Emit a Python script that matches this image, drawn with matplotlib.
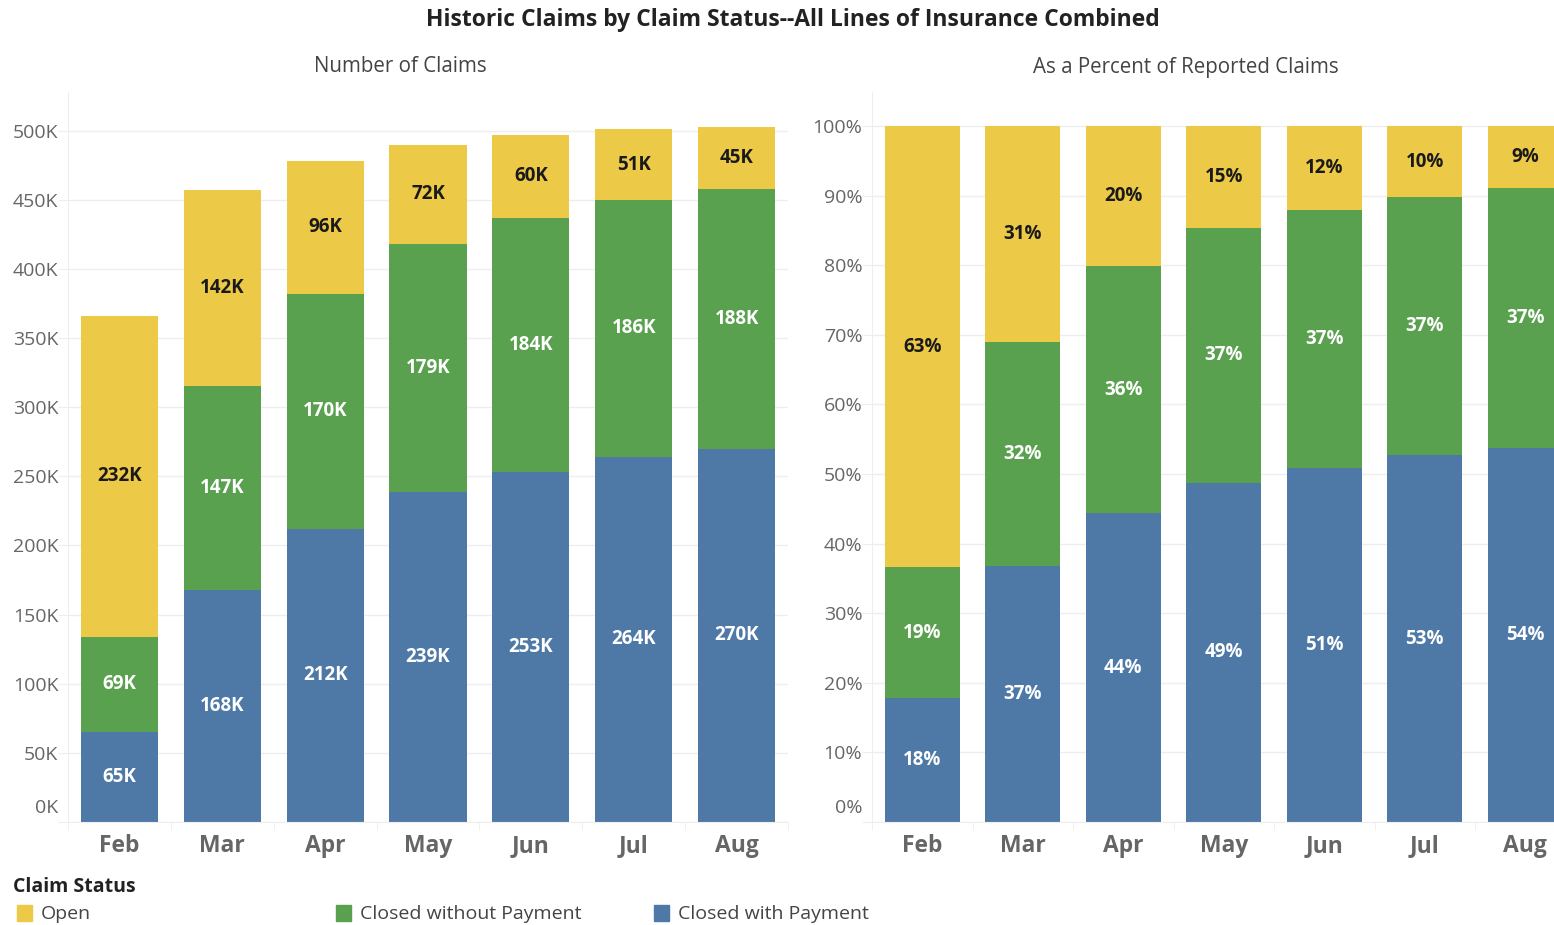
import matplotlib
matplotlib.use("Agg")
import matplotlib.pyplot as plt
from matplotlib.patches import Rectangle
import numpy as np

plt.rcParams['font.family'] = ['Open Sans', 'DejaVu Sans']

# Дані
months = ['Feb', 'Mar', 'Apr', 'May', 'Jun', 'Jul', 'Aug']
closed_with = [65, 168, 212, 239, 253, 264, 270]      # тис.
closed_without = [69, 147, 170, 179, 184, 186, 188]
open_claims = [232, 142, 96, 72, 60, 51, 45]

series_names = ['Closed with Payment', 'Closed without Payment', 'Open']
colors = ['#4E79A7', '#59A14F', '#EDC948']
text_colors = ['white', 'white', '#1a1a1a']

count_ticks = [0, 50, 100, 150, 200, 250, 300, 350, 400, 450, 500]
pct_ticks = [0, 10, 20, 30, 40, 50, 60, 70, 80, 90, 100]

W, H = 1554, 925
fig = plt.figure(figsize=(W / 100, H / 100), dpi=100)

ax1 = fig.add_axes([68 / W, 1 - 822 / H, 720 / W, 730 / H])
ax2 = fig.add_axes([872 / W, 1 - 822 / H, 703.5 / W, 730 / H])

counts = np.array([closed_with, closed_without, open_claims], dtype=float)
totals = counts.sum(axis=0)
pcts = counts / totals * 100

x = np.arange(len(months))


def draw_stack(ax, data, fmt):
    bottom = np.zeros(len(months))
    for i, vals in enumerate(data):
        ax.bar(x, vals, 0.75, bottom=bottom, color=colors[i], zorder=2)
        for xi, v, b in zip(x, vals, bottom):
            ax.text(xi, b + v / 2, fmt(v), ha='center', va='center',
                    color=text_colors[i], fontsize=13.5, fontweight='bold', zorder=3)
        bottom += vals


draw_stack(ax1, counts, lambda v: f"{v:.0f}K")
draw_stack(ax2, pcts, lambda v: f"{v:.0f}%")

ax1.set_ylim(0, 528)
ax2.set_ylim(0, 104.9)

for ax, ticks, suffix in [(ax1, count_ticks, 'K'), (ax2, pct_ticks, '%')]:
    ax.set_xlim(-0.5, 6.5)
    ax.set_yticks(ticks)
    ax.set_yticklabels([''] + [f"{t}{suffix}" for t in ticks[1:]])
    # підпис нуля трохи вище, як в оригіналі
    ax.annotate(f"0{suffix}", xy=(0, 0), xycoords=('axes fraction', 'data'),
                xytext=(-10, 14), textcoords='offset pixels', ha='right', va='center',
                fontsize=14, color='#666666')
    ax.tick_params(axis='y', length=7, color='#eeeeee', labelsize=14,
                   labelcolor='#666666', pad=0)
    ax.grid(axis='y', color='#eeeeee', linewidth=1, zorder=0)
    ax.set_xticks(x)
    ax.set_xticklabels(months, fontsize=16.5, fontweight='bold', color='#666666')
    ax.set_xticks(np.arange(-0.5, 7, 1), minor=True)
    ax.tick_params(axis='x', which='major', length=0, pad=9)
    ax.tick_params(axis='x', which='minor', length=6, color='#eeeeee')
    for s in ['top', 'right']:
        ax.spines[s].set_visible(False)
    for s in ['left', 'bottom']:
        ax.spines[s].set_color('#eeeeee')

fig.text(793 / W, 1 - 20 / H, 'Historic Claims by Claim Status--All Lines of Insurance Combined',
         ha='center', va='center', fontsize=16.5, fontweight='bold', color='#222222')
fig.text(400 / W, 1 - 67 / H, 'Number of Claims', ha='center', va='center',
         fontsize=14.8, color='#444444')
fig.text(1186 / W, 1 - 67 / H, 'As a Percent of Reported Claims', ha='center', va='center',
         fontsize=14.8, color='#444444')

# Легенда
fig.text(13 / W, 1 - 887 / H, 'Claim Status', ha='left', va='center',
         fontsize=14, fontweight='bold', color='#222222')
legend_items = [('Open', colors[2], 17), ('Closed without Payment', colors[1], 336),
                ('Closed with Payment', colors[0], 654)]
for name, col, px in legend_items:
    fig.patches.append(Rectangle((px / W, 1 - 921 / H), 15 / W, 16 / H,
                                 transform=fig.transFigure, color=col, figure=fig))
    fig.text((px + 24) / W, 1 - 914 / H, name, ha='left', va='center',
             fontsize=14, color='#444444')

fig.savefig('out.png', dpi=100)
